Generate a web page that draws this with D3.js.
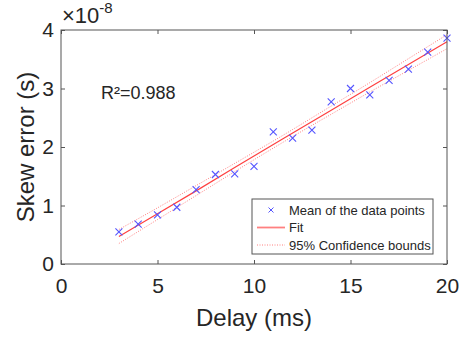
<!DOCTYPE html>
<html>
<head>
<meta charset="utf-8">
<script src="https://cdn.jsdelivr.net/npm/d3@7"></script>
<style>
  body { margin: 0; background: #fff; }
  text { font-family: Arial, "Liberation Sans", sans-serif; fill: #262626; }
</style>
</head>
<body>
<div id="chart"></div>
<script>
// delay (ms) and mean skew error (x1e-8 s)
const delays = [3, 4, 5, 6, 7, 8, 9, 10, 11, 12, 13, 14, 15, 16, 17, 18, 19, 20];
const skewMeans = [0.55, 0.68, 0.84, 0.97, 1.27, 1.53, 1.54, 1.67, 2.26, 2.15, 2.29, 2.77, 3.0, 2.89, 3.14, 3.33, 3.62, 3.86];

// fit line and 95% bounds, read at a few delays
const fitX = [3, 5, 7, 9, 11.5, 14, 16, 18, 20];
const fitY = [0.47, 0.86, 1.25, 1.65, 2.14, 2.63, 3.02, 3.41, 3.80];
const upperY = [0.59, 0.96, 1.34, 1.72, 2.20, 2.70, 3.10, 3.51, 3.92];
const lowerY = [0.35, 0.76, 1.17, 1.58, 2.08, 2.56, 2.94, 3.31, 3.68];

const xTicks = [0, 5, 10, 15, 20];
const yTicks = [0, 1, 2, 3, 4];

const width = 466, height = 339;
const margin = {left: 61, top: 30, right: 19, bottom: 75};

let svg = d3.select("#chart")
  .append("svg")
  .attr("width", width)
  .attr("height", height);

let x = d3.scaleLinear().domain([0, 20]).range([margin.left, width - margin.right]);
let y = d3.scaleLinear().domain([0, 4]).range([height - margin.bottom, margin.top]);

// confidence bounds
[upperY, lowerY].forEach(function(vals) {
  svg.append("path")
    .datum(fitX.map(function(d, i) { return [d, vals[i]]; }))
    .attr("fill", "none")
    .attr("stroke", "#ff8080")
    .attr("stroke-width", 1)
    .attr("stroke-dasharray", "1,1.5")
    .attr("d", d3.line().curve(d3.curveMonotoneX)
      .x(function(d) { return x(d[0]); })
      .y(function(d) { return y(d[1]); }));
});

// fit line
svg.append("path")
  .datum(fitX.map(function(d, i) { return [d, fitY[i]]; }))
  .attr("fill", "none")
  .attr("stroke", "#ff4040")
  .attr("stroke-width", 1.2)
  .attr("d", d3.line()
    .x(function(d) { return x(d[0]); })
    .y(function(d) { return y(d[1]); }));

// x markers
let s = 3.5;
svg.selectAll(".pt")
  .data(delays)
  .enter().append("path")
  .attr("class", "pt")
  .attr("fill", "none")
  .attr("stroke", "#5555ff")
  .attr("stroke-width", 1.1)
  .attr("d", function(d, i) {
    let cx = x(d), cy = y(skewMeans[i]);
    return `M${cx - s},${cy - s}L${cx + s},${cy + s}M${cx - s},${cy + s}L${cx + s},${cy - s}`;
  });

// axes box
let x0 = margin.left, x1 = width - margin.right, y0 = height - margin.bottom, y1 = margin.top;
svg.append("rect")
  .attr("x", x0).attr("y", y1)
  .attr("width", x1 - x0).attr("height", y0 - y1)
  .attr("fill", "none")
  .attr("stroke", "#555")
  .attr("stroke-width", 1);

let axisStyle = function(g) {
  g.select(".domain").remove();
  g.selectAll("line").attr("stroke", "#555");
  g.selectAll("text").style("font-size", "21px").attr("fill", "#262626")
    .style("font-family", "Arial, 'Liberation Sans', sans-serif");
};

svg.append("g")
  .attr("transform", `translate(0,${y0})`)
  .call(d3.axisBottom(x).tickValues(xTicks).tickSize(-4).tickPadding(14).tickFormat(d3.format("d")))
  .call(axisStyle);
svg.append("g")
  .attr("transform", `translate(0,${y1})`)
  .call(d3.axisTop(x).tickValues(xTicks).tickSize(-4).tickFormat(""))
  .call(axisStyle);
svg.append("g")
  .attr("transform", `translate(${x0},0)`)
  .call(d3.axisLeft(y).tickValues(yTicks).tickSize(-4).tickPadding(7).tickFormat(d3.format("d")))
  .call(axisStyle);
svg.append("g")
  .attr("transform", `translate(${x1},0)`)
  .call(d3.axisRight(y).tickValues(yTicks).tickSize(-4).tickFormat(""))
  .call(axisStyle);

// exponent
let ex = svg.append("text")
  .attr("x", 62).attr("y", 23)
  .style("font-size", "22px");
ex.append("tspan").text("\u00d710");
ex.append("tspan").attr("dy", -10).style("font-size", "15px").text("-8");

// axis labels
svg.append("text")
  .attr("x", (x0 + x1) / 2).attr("y", 326)
  .attr("text-anchor", "middle")
  .style("font-size", "24px")
  .text("Delay (ms)");
svg.append("text")
  .attr("transform", `translate(34,${(y0 + y1) / 2}) rotate(-90)`)
  .attr("text-anchor", "middle")
  .style("font-size", "24px")
  .text("Skew error (s)");

// R^2
svg.append("text")
  .attr("x", 101).attr("y", 99)
  .style("font-size", "18px")
  .text("R\u00b2=0.988");

// legend
let lg = svg.append("g").attr("transform", "translate(252,199)");
lg.append("rect")
  .attr("width", 181).attr("height", 55)
  .attr("fill", "#fff")
  .attr("stroke", "#555")
  .attr("stroke-width", 1);
let items = ["Mean of the data points", "Fit", "95% Confidence bounds"];
items.forEach(function(t, i) {
  let ly = 11 + i * 17.5;
  if (i == 0) {
    let m = 2.5;
    lg.append("path")
      .attr("fill", "none").attr("stroke", "#5555ff").attr("stroke-width", 1)
      .attr("d", `M${19 - m},${ly - m}L${19 + m},${ly + m}M${19 - m},${ly + m}L${19 + m},${ly - m}`);
  } else {
    lg.append("line")
      .attr("x1", 5).attr("x2", 33).attr("y1", ly).attr("y2", ly)
      .attr("stroke", "#ff8080")
      .attr("stroke-width", i == 1 ? 1.8 : 1)
      .attr("stroke-dasharray", i == 1 ? null : "1,1.5");
  }
  lg.append("text")
    .attr("x", 37).attr("y", ly + 4.5)
    .style("font-size", "13px")
    .text(t);
});
</script>
</body>
</html>
